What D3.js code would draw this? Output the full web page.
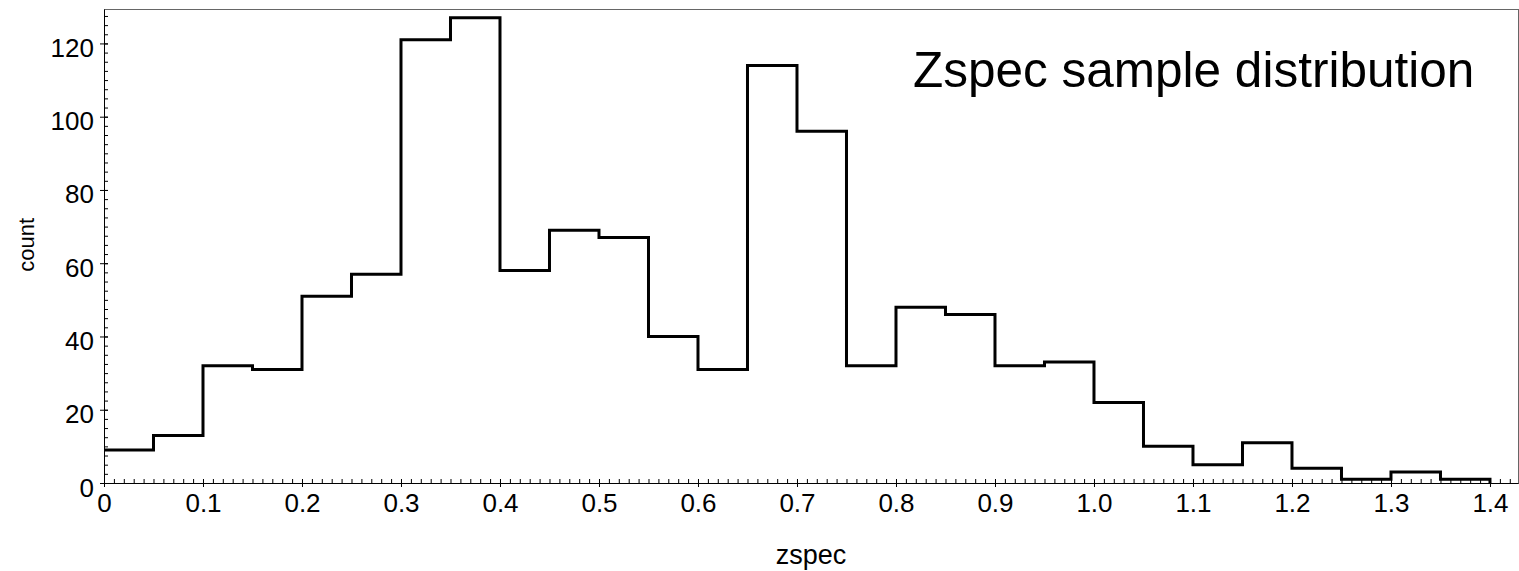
<!DOCTYPE html>
<html>
<head>
<meta charset="utf-8">
<script src="https://d3js.org/d3.v7.min.js"></script>
<style>
  body { margin: 0; background: #fff; }
  text { font-family: "Liberation Sans", Arial, sans-serif; fill: #000; }
</style>
</head>
<body>
<div id="chart"></div>
<script>
// bin lower edges (width 0.05) and counts
var binStart = [0, 0.05, 0.1, 0.15, 0.2, 0.25, 0.3, 0.35, 0.4, 0.45, 0.5, 0.55, 0.6, 0.65,
                0.7, 0.75, 0.8, 0.85, 0.9, 0.95, 1.0, 1.05, 1.1, 1.15, 1.2, 1.25, 1.3, 1.35];
var binEnd   = [0.05, 0.1, 0.15, 0.2, 0.25, 0.3, 0.35, 0.4, 0.45, 0.5, 0.55, 0.6, 0.65, 0.7,
                0.75, 0.8, 0.85, 0.9, 0.95, 1.0, 1.05, 1.1, 1.15, 1.2, 1.25, 1.3, 1.35, 1.4];
var counts   = [9, 13, 32, 31, 51, 57, 121, 127, 58, 69, 67, 40, 31, 114,
                96, 32, 48, 46, 32, 33, 22, 10, 5, 11, 4, 1, 3, 1];

var xTicks = [0, 0.1, 0.2, 0.3, 0.4, 0.5, 0.6, 0.7, 0.8, 0.9, 1.0, 1.1, 1.2, 1.3, 1.4];
var xTickLabels = ["0", "0.1", "0.2", "0.3", "0.4", "0.5", "0.6", "0.7", "0.8", "0.9",
                   "1.0", "1.1", "1.2", "1.3", "1.4"];
var yTicks = [0, 20, 40, 60, 80, 100, 120];

renderChart();

function renderChart() {
    var width = 1519;
    var height = 571;
    var plotLeft = 104, plotRight = 1518, plotTop = 9, plotBottom = 483;

    var svg = d3.select("#chart")
        .append("svg")
        .attr("width", width)
        .attr("height", height);

    var x = d3.scaleLinear().domain([0, 1.4283]).range([plotLeft, plotRight]);
    var y = d3.scaleLinear().domain([0, 129.4]).range([plotBottom, plotTop]);

    // frame (top + right in grey)
    svg.append("rect")
        .attr("x", plotLeft + 0.5)
        .attr("y", plotTop + 0.5)
        .attr("width", plotRight - plotLeft)
        .attr("height", plotBottom - plotTop)
        .attr("fill", "none")
        .attr("stroke", "#666")
        .attr("stroke-width", 1);

    // histogram outline as a step path (starts on the y axis)
    var pts = [];
    for (var i = 0; i < counts.length; i++) {
        pts.push([binStart[i], counts[i]]);
        pts.push([binEnd[i], counts[i]]);
    }
    pts.push([binEnd[binEnd.length - 1], 0]);

    svg.append("path")
        .datum(pts)
        .attr("fill", "none")
        .attr("stroke", "#000")
        .attr("stroke-width", 3)
        .attr("stroke-linejoin", "miter")
        .attr("d", d3.line()
            .x(function(d) { return x(d[0]); })
            .y(function(d) { return y(d[1]); }));

    // minor ticks, pointing inwards
    var xMinor = d3.range(0, 143).map(function(k) { return k / 100; });
    var yMinor = d3.range(0, 52).map(function(k) { return k * 2.5; });

    svg.append("g")
        .attr("transform", "translate(0," + plotBottom + ")")
        .call(d3.axisBottom(x).tickValues(xMinor).tickSize(-4).tickFormat(""))
        .call(function(g) { g.select(".domain").remove(); });

    svg.append("g")
        .attr("transform", "translate(" + plotLeft + ",0)")
        .call(d3.axisLeft(y).tickValues(yMinor).tickSize(-4).tickFormat(""))
        .call(function(g) { g.select(".domain").remove(); });

    // major axes
    var xAxis = svg.append("g")
        .attr("transform", "translate(0," + plotBottom + ")")
        .call(d3.axisBottom(x)
            .tickValues(xTicks)
            .tickSizeOuter(0)
            .tickFormat(function(d, i) { return xTickLabels[i]; }));
    xAxis.selectAll(".tick line").attr("y1", -4).attr("y2", 4);
    xAxis.selectAll(".tick text")
        .attr("y", 8)
        .attr("dy", "0.8em")
        .style("font-size", "26px");
    xAxis.select(".domain").attr("d", "M" + (plotLeft + 0.5) + ",0.5H" + (plotRight + 0.5));

    var yAxis = svg.append("g")
        .attr("transform", "translate(" + plotLeft + ",0)")
        .call(d3.axisLeft(y).tickValues(yTicks).tickSizeOuter(0));
    yAxis.selectAll(".tick line").attr("x1", 4).attr("x2", -4);
    yAxis.selectAll(".tick text")
        .attr("x", -10)
        .attr("dy", 13)
        .style("font-size", "26px");
    yAxis.select(".domain").attr("d", "M0.5," + (plotTop + 0.5) + "V" + (plotBottom + 0.5));

    svg.selectAll(".domain, .tick line").attr("stroke", "#000");

    // labels
    svg.append("text")
        .attr("x", (plotLeft + plotRight) / 2)
        .attr("y", 564)
        .attr("text-anchor", "middle")
        .style("font-size", "27px")
        .text("zspec");

    svg.append("text")
        .attr("transform", "translate(34," + y(65) + ") rotate(-90)")
        .attr("text-anchor", "middle")
        .style("font-size", "22px")
        .text("count");

    svg.append("text")
        .attr("x", 913)
        .attr("y", 87)
        .style("font-size", "49.5px")
        .text("Zspec sample distribution");
}
</script>
</body>
</html>
